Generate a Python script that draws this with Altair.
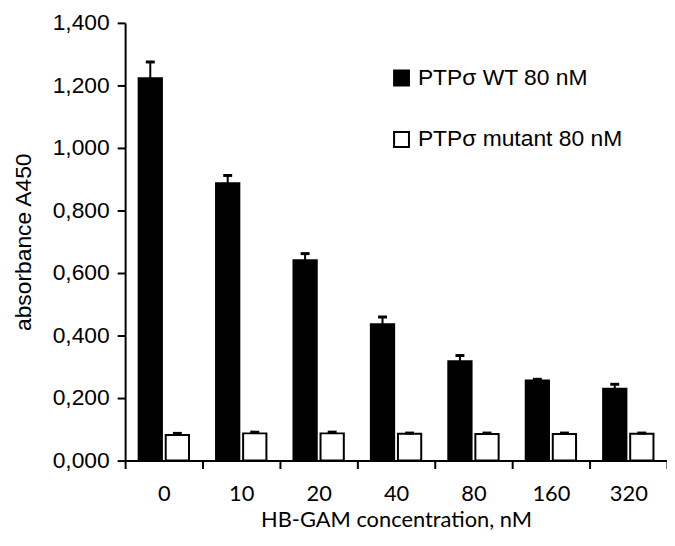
import altair as alt
import pandas as pd

conc = ["0", "10", "20", "40", "80", "160", "320"]
series = ["PTPσ WT 80 nM", "PTPσ mutant 80 nM"]
wt = [1.223, 0.887, 0.641, 0.436, 0.318, 0.256, 0.230]
wt_err = [0.052, 0.025, 0.021, 0.023, 0.018, 0.004, 0.014]
mut = [0.082, 0.087, 0.087, 0.086, 0.085, 0.085, 0.086]
mut_err = [0.005, 0.004, 0.004, 0.002, 0.003, 0.003, 0.002]
y_ticks = [0, 0.2, 0.4, 0.6, 0.8, 1.0, 1.2, 1.4]

rows = []
for i, c in enumerate(conc):
    rows.append({"conc": c, "series": series[0], "value": wt[i], "hi": wt[i] + wt_err[i]})
    rows.append({"conc": c, "series": series[1], "value": mut[i], "hi": mut[i] + mut_err[i]})
df = pd.DataFrame(rows)

x_enc = alt.X(
    "conc:N",
    sort=conc,
    scale=alt.Scale(paddingInner=0, paddingOuter=0),
    axis=alt.Axis(
        title="HB-GAM concentration, nM",
        titleFont="Lato",
        titleFontSize=22,
        titleFontWeight="normal",
        titleColor="black",
        titlePadding=5,
        labelFont="Lato",
        labelFontSize=22,
        labelColor="black",
        labelAngle=0,
        labelPadding=15,
        tickBand="extent",
        tickSize=8,
        tickWidth=2,
        tickColor="black",
        domainColor="black",
        domainWidth=2,
    ),
)
xoff = alt.XOffset(
    "series:N",
    sort=series,
    scale=alt.Scale(paddingInner=0.14, paddingOuter=0.5),
)
y_scale = alt.Scale(domain=[0, 1.4], nice=False, zero=True)

bars = alt.Chart(df).mark_bar(stroke="black", strokeWidth=2).encode(
    x=x_enc,
    xOffset=xoff,
    y=alt.Y(
        "value:Q",
        scale=y_scale,
        axis=alt.Axis(
            values=y_ticks,
            labelExpr="replace(format(datum.value, '.3f'), '.', ',')",
            title="absorbance  A450",
            titleFont="Liberation Sans",
            titleFontSize=23,
            titleFontWeight="normal",
            titleColor="black",
            titlePadding=17,
            labelFont="Liberation Sans",
            labelFontSize=23,
            labelColor="black",
            labelPadding=8,
            tickSize=8,
            tickWidth=2,
            tickColor="black",
            domainColor="black",
            domainWidth=2,
            grid=False,
        ),
    ),
    fill=alt.Fill(
        "series:N",
        sort=series,
        scale=alt.Scale(domain=series, range=["black", "white"]),
        legend=alt.Legend(
            title=None,
            orient="none",
            legendX=267,
            legendY=44,
            symbolType="square",
            symbolSize=225,
            symbolStrokeColor="black",
            symbolStrokeWidth=2,
            labelFont="Liberation Sans",
            labelFontSize=23,
            labelColor="black",
            labelOffset=5,
            labelLimit=0,
            rowPadding=38,
            padding=0,
        ),
    ),
)

err = alt.Chart(df).mark_rule(color="black", strokeWidth=2).encode(
    x=alt.X("conc:N", sort=conc),
    xOffset=xoff,
    y=alt.Y("value:Q", scale=y_scale),
    y2="hi:Q",
)

caps = alt.Chart(df).mark_tick(color="black", thickness=3, size=9, opacity=1).encode(
    x=alt.X("conc:N", sort=conc),
    xOffset=xoff,
    y=alt.Y("hi:Q", scale=y_scale),
)

chart = (
    alt.layer(bars, err, caps)
    .properties(
        width=546,
        height=441,
        autosize=alt.AutoSizeParams(type="none"),
        padding={"left": 118, "top": 13, "right": 0, "bottom": 76},
        background="white",
    )
    .configure_view(stroke=None)
)

chart.save("out.html", embed_options={"renderer": "svg", "actions": False})
